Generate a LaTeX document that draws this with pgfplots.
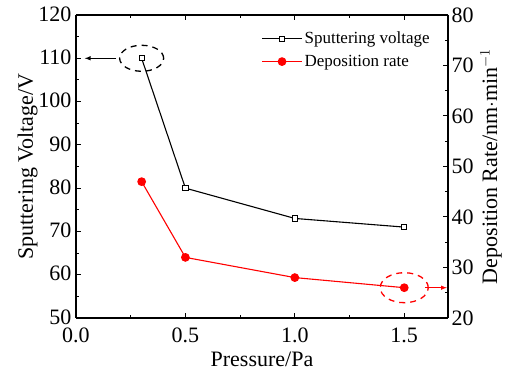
\documentclass[border=0pt]{standalone}
\usepackage{fontspec}
\setmainfont{Liberation Serif}
\usepackage{pgfplots}
\pgfplotsset{compat=1.18}
\begin{document}
\begin{tikzpicture}
\pgfplotsset{
  myaxis/.style={
    scale only axis, width=372pt, height=303pt,
    xmin=0, xmax=1.7,
    tick align=inside,
    axis line style={line width=1.2pt},
    major tick length=5pt, minor tick length=3pt,
    every tick/.style={black, line width=1pt},
    tick label style={font=\fontsize{22}{24}\selectfont},
    label style={font=\fontsize{22}{24}\selectfont},
    /pgf/number format/assume math mode=true,
  }
}
\path (-76pt,-61pt) rectangle (433pt,318pt);
\begin{axis}[myaxis,
  ymin=50, ymax=120,
  xtick={0,0.5,1,1.5}, minor x tick num=1,
  ytick={50,60,...,120}, minor y tick num=1,
  axis y line*=left,
  xticklabel style={yshift=-6pt, /pgf/number format/.cd, fixed, fixed zerofill, precision=1},
  yticklabel style={xshift=-1pt, yshift=1pt},
  xlabel={Pressure/Pa},
  xlabel style={yshift=-3pt},
  ylabel={Sputtering Voltage/V},
  ylabel style={yshift=-6pt},
]
\addplot[black, line width=1.1pt, mark=square*, mark size=2.6pt, mark options={fill=white, line width=0.9pt}]
  coordinates {(0.3,110) (0.5,80) (1.0,73) (1.5,71)};
\draw[black, dashed, dash pattern=on 6pt off 5pt, line width=1.3pt] (axis cs:0.3,110) ellipse [x radius=22pt, y radius=13pt];
\draw[black, line width=1pt, -latex] (axis cs:0.183,110) -- (axis cs:0.04,110);
\end{axis}
\begin{axis}[myaxis,
  ymin=20, ymax=80,
  ytick={20,30,...,80}, minor y tick num=1,
  axis y line*=right, axis x line=none,
  ylabel={Deposition Rate/nm$\cdot$min$^{-1}$},
  legend style={draw=none, fill=none, at={(0.49,0.958)}, anchor=north west,
    font=\fontsize{17}{19}\selectfont, row sep=6pt},
  legend cell align=left,
  legend image code/.code={\draw[mark repeat=2,mark phase=2,#1] plot coordinates {(0pt,0pt) (20pt,0pt) (40pt,0pt)};},
]
\addlegendimage{black, line width=1.1pt, mark=square*, mark size=2.6pt, mark options={fill=white, line width=0.9pt}}
\addlegendentry{Sputtering voltage}
\addplot[red, line width=1.1pt, mark=*, mark size=3.8pt]
  coordinates {(0.3,47) (0.5,32) (1.0,28) (1.5,26)};
\addlegendentry{Deposition rate}
\draw[red, dashed, dash pattern=on 6pt off 5pt, line width=1.3pt] (axis cs:1.5,26) ellipse [x radius=24pt, y radius=15pt];
\draw[red, line width=1pt, -latex] (axis cs:1.595,26) -- (axis cs:1.695,26);
\end{axis}
\end{tikzpicture}
\end{document}
